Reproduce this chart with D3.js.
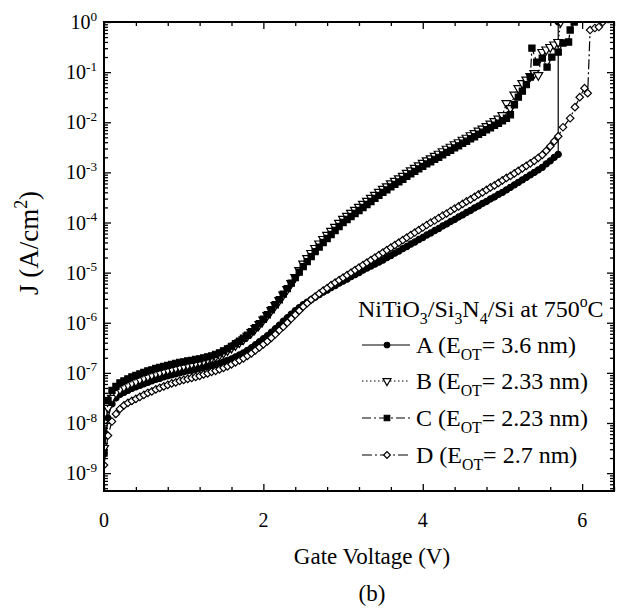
<!DOCTYPE html>
<html><head><meta charset="utf-8">
<script src="https://cdn.jsdelivr.net/npm/d3@7"></script>
<style>
body{margin:0;background:#fff}
svg{display:block}
text{font-family:"Liberation Serif","Times New Roman",serif;fill:#000}
</style>
</head><body>
<svg id="chart" width="617" height="613"></svg>
<script>
// ---------------- data ----------------
const gateV = [0,0.05,0.1,0.15,0.2,0.25,0.3,0.35,0.4,0.45,
0.5,0.55,0.6,0.65,0.7,0.75,0.8,0.85,0.9,0.95,
1,1.05,1.1,1.15,1.2,1.25,1.3,1.35,1.4,1.45,
1.5,1.55,1.6,1.65,1.7,1.75,1.8,1.85,1.9,1.95,
2,2.05,2.1,2.15,2.2,2.25,2.3,2.35,2.4,2.45,
2.5,2.55,2.6,2.65,2.7,2.75,2.8,2.85,2.9,2.95,
3,3.05,3.1,3.15,3.2,3.25,3.3,3.35,3.4,3.45,
3.5,3.55,3.6,3.65,3.7,3.75,3.8,3.85,3.9,3.95,
4,4.05,4.1,4.15,4.2,4.25,4.3,4.35,4.4,4.45,
4.5,4.55,4.6,4.65,4.7,4.75,4.8,4.85,4.9,4.95,
5,5.05,5.1,5.15,5.2,5.25,5.3,5.35,5.4,5.45,
5.5,5.55,5.6,5.65,5.7];

// log10 of J (A/cm^2)
const logJ_A = [-8.60,-7.90,-7.62,-7.50,-7.43,-7.39,-7.35,-7.31,-7.28,-7.25,
-7.22,-7.19,-7.16,-7.13,-7.11,-7.08,-7.06,-7.04,-7.02,-7.00,
-6.98,-6.96,-6.95,-6.93,-6.91,-6.89,-6.87,-6.85,-6.83,-6.81,
-6.78,-6.75,-6.72,-6.68,-6.64,-6.60,-6.55,-6.50,-6.44,-6.38,
-6.32,-6.26,-6.19,-6.12,-6.05,-5.97,-5.90,-5.83,-5.76,-5.70,
-5.64,-5.59,-5.54,-5.49,-5.44,-5.39,-5.35,-5.30,-5.26,-5.21,
-5.17,-5.13,-5.08,-5.04,-5.00,-4.95,-4.91,-4.87,-4.83,-4.79,
-4.75,-4.70,-4.66,-4.61,-4.57,-4.52,-4.48,-4.43,-4.39,-4.34,
-4.30,-4.25,-4.21,-4.16,-4.12,-4.07,-4.03,-3.98,-3.94,-3.89,
-3.85,-3.80,-3.76,-3.71,-3.67,-3.62,-3.58,-3.53,-3.49,-3.44,
-3.40,-3.35,-3.30,-3.25,-3.20,-3.15,-3.10,-3.05,-3.00,-2.95,
-2.90,-2.83,-2.77,-2.70,-2.64];
const tailV_A = [5.7];
const tailLogJ_A = [0.0];

const logJ_B = [-8.50,-7.70,-7.50,-7.40,-7.33,-7.28,-7.24,-7.20,-7.17,-7.13,
-7.10,-7.07,-7.04,-7.01,-6.99,-6.96,-6.94,-6.92,-6.90,-6.88,
-6.86,-6.84,-6.82,-6.80,-6.78,-6.76,-6.73,-6.70,-6.67,-6.64,
-6.60,-6.55,-6.50,-6.45,-6.39,-6.33,-6.26,-6.19,-6.11,-6.03,
-5.94,-5.85,-5.75,-5.65,-5.55,-5.44,-5.33,-5.21,-5.09,-4.95,
-4.82,-4.71,-4.61,-4.51,-4.42,-4.33,-4.25,-4.17,-4.09,-4.01,
-3.93,-3.87,-3.81,-3.75,-3.69,-3.63,-3.57,-3.51,-3.45,-3.39,
-3.33,-3.28,-3.22,-3.17,-3.12,-3.07,-3.01,-2.96,-2.91,-2.86,
-2.81,-2.76,-2.72,-2.67,-2.63,-2.58,-2.53,-2.49,-2.44,-2.40,
-2.35,-2.31,-2.26,-2.22,-2.17,-2.13,-2.08,-2.03,-1.98,-1.93,
-1.86];
const tailV_B = [5.05,5.10,5.15,5.20,5.25,5.30,5.35,5.40,5.45,5.50,5.55,5.60,5.65,5.70,5.73];
const tailLogJ_B = [-1.62,-1.72,-1.45,-1.32,-1.22,-1.15,-1.08,-1.02,-1.06,-0.60,-0.55,-0.50,-0.45,-0.40,0.0];

const logJ_C = [-8.60,-7.55,-7.35,-7.27,-7.20,-7.16,-7.12,-7.08,-7.05,-7.02,
-6.99,-6.96,-6.94,-6.91,-6.89,-6.87,-6.85,-6.83,-6.81,-6.79,
-6.78,-6.76,-6.75,-6.73,-6.72,-6.70,-6.68,-6.66,-6.63,-6.60,
-6.56,-6.52,-6.47,-6.42,-6.37,-6.31,-6.25,-6.18,-6.10,-6.02,
-5.93,-5.84,-5.74,-5.64,-5.54,-5.43,-5.32,-5.21,-5.10,-4.99,
-4.88,-4.78,-4.68,-4.58,-4.49,-4.40,-4.32,-4.24,-4.16,-4.08,
-4.00,-3.94,-3.88,-3.82,-3.76,-3.70,-3.64,-3.58,-3.52,-3.46,
-3.40,-3.35,-3.29,-3.24,-3.19,-3.14,-3.08,-3.03,-2.98,-2.93,
-2.88,-2.83,-2.79,-2.74,-2.70,-2.65,-2.60,-2.56,-2.51,-2.47,
-2.42,-2.38,-2.33,-2.29,-2.24,-2.20,-2.15,-2.11,-2.06,-2.02,
-1.97];
const tailV_C = [5.05,5.10,5.15,5.20,5.25,5.30,5.35,5.37,5.43,5.50,5.56,5.62,5.70,5.76,5.83,5.85,5.90];
const tailLogJ_C = [-1.92,-1.85,-1.65,-1.50,-1.38,-1.25,-1.10,-0.52,-0.80,-0.72,-0.90,-0.70,-0.60,-0.42,-0.40,-0.16,0.0];

const logJ_D = [-8.84,-8.25,-7.97,-7.82,-7.72,-7.65,-7.60,-7.56,-7.52,-7.48,
-7.44,-7.40,-7.37,-7.33,-7.30,-7.27,-7.24,-7.21,-7.19,-7.16,
-7.14,-7.12,-7.10,-7.08,-7.06,-7.03,-7.01,-6.98,-6.96,-6.93,
-6.90,-6.87,-6.83,-6.79,-6.75,-6.71,-6.66,-6.61,-6.55,-6.49,
-6.43,-6.37,-6.30,-6.23,-6.15,-6.08,-6.00,-5.92,-5.84,-5.76,
-5.68,-5.61,-5.54,-5.48,-5.42,-5.36,-5.31,-5.25,-5.20,-5.15,
-5.10,-5.05,-5.00,-4.95,-4.90,-4.85,-4.80,-4.75,-4.70,-4.65,
-4.60,-4.55,-4.50,-4.45,-4.40,-4.35,-4.30,-4.25,-4.20,-4.15,
-4.10,-4.05,-4.00,-3.96,-3.91,-3.86,-3.82,-3.77,-3.72,-3.68,
-3.63,-3.58,-3.54,-3.49,-3.44,-3.40,-3.35,-3.30,-3.26,-3.21,
-3.16,-3.11,-3.07,-3.02,-2.97,-2.92,-2.87,-2.82,-2.77,-2.71,
-2.65,-2.57,-2.48,-2.38];
const tailV_D = [5.70,5.76,5.85,5.91,5.97,6.03,6.07,6.10,6.16,6.21,6.26];
const tailLogJ_D = [-2.28,-2.10,-1.92,-1.70,-1.50,-1.32,-1.42,-0.16,-0.12,-0.10,0.0];

const seriesNames = ["A","B","C","D"];
const eotValues = ["3.6","2.33","2.23","2.7"];
const xMajorTicks = [0,2,4,6];
const xMinorTicks = [0.4,0.8,1.2,1.6,2.4,2.8,3.2,3.6,4.4,4.8,5.2,5.6,6.4];
const yDecadeExps = [0,-1,-2,-3,-4,-5,-6,-7,-8,-9];

// ---------------- chart ----------------
const svg = d3.select("#chart");
const L = 104, R = 614, T = 22, B = 491;
const x = d3.scaleLinear().domain([0, 6.4]).range([L, R]);
const y = d3.scaleLog().domain([4.4e-10, 1]).range([B, T]);

function build(n, logs, tv, tl) {
  const pts = gateV.slice(0, n).map((v, i) => ({v, j: Math.pow(10, logs[i])}));
  return pts.concat(tv.map((v, i) => ({v, j: Math.pow(10, tl[i])})));
}
const series = [
  {name:"A", pts: build(logJ_A.length, logJ_A, tailV_A, tailLogJ_A), sym: d3.symbolCircle, size: 30, fill:"#000", dash:null, rot:0},
  {name:"B", pts: build(logJ_B.length, logJ_B, tailV_B, tailLogJ_B), sym: d3.symbolTriangle, size: 34, fill:"#fff", dash:"1.5,2.5", rot:180},
  {name:"C", pts: build(logJ_C.length, logJ_C, tailV_C, tailLogJ_C), sym: d3.symbolSquare, size: 38, fill:"#000", dash:"9,3,2,3", rot:0},
  {name:"D", pts: build(logJ_D.length, logJ_D, tailV_D, tailLogJ_D), sym: d3.symbolSquare, size: 28, fill:"#fff", dash:"10,3,2,3", rot:45}
];

svg.append("defs").append("clipPath").attr("id","plotclip")
  .append("rect").attr("x", L).attr("y", T).attr("width", R - L).attr("height", B - T);

// axes ticks (inward)
const yMinor = [];
yDecadeExps.forEach(e => { for (let k = 2; k <= 9; k++) { const v = k * Math.pow(10, e - 1); if (v >= 4.4e-10 && v < 1) yMinor.push(v); } });
const yMajor = yDecadeExps.map(e => Math.pow(10, e));

const axG = svg.append("g");
function addAxis(gen, transform) { const g = axG.append("g").attr("transform", transform).call(gen); g.selectAll("text").remove(); g.select(".domain").remove(); g.selectAll("line").attr("stroke","#000").attr("stroke-width",1.3); }
addAxis(d3.axisBottom(x).tickValues(xMajorTicks).tickSize(-7), `translate(0,${B})`);
addAxis(d3.axisBottom(x).tickValues(xMinorTicks).tickSize(-4), `translate(0,${B})`);
addAxis(d3.axisTop(x).tickValues(xMajorTicks).tickSize(-7), `translate(0,${T})`);
addAxis(d3.axisTop(x).tickValues(xMinorTicks).tickSize(-4), `translate(0,${T})`);
addAxis(d3.axisLeft(y).tickValues(yMajor).tickSize(-7), `translate(${L},0)`);
addAxis(d3.axisLeft(y).tickValues(yMinor).tickSize(-4), `translate(${L},0)`);
addAxis(d3.axisRight(y).tickValues(yMajor).tickSize(-7), `translate(${R},0)`);
addAxis(d3.axisRight(y).tickValues(yMinor).tickSize(-4), `translate(${R},0)`);

// data
const plot = svg.append("g").attr("clip-path","url(#plotclip)");
const line = d3.line().x(d => x(d.v)).y(d => y(d.j));
const drawOrder = [0, 3, 1, 2];
drawOrder.forEach(si => {
  const s = series[si];
  const g = plot.append("g");
  g.append("path").datum(s.pts).attr("d", line).attr("fill","none").attr("stroke","#000")
    .attr("stroke-width",1.2).attr("stroke-dasharray", s.dash);
  g.selectAll("path.m").data(s.pts).join("path").attr("class","m")
    .attr("d", d3.symbol().type(s.sym).size(s.size))
    .attr("transform", d => `translate(${x(d.v)},${y(d.j)}) rotate(${s.rot})`)
    .attr("fill", s.fill).attr("stroke","#000").attr("stroke-width",1.2);
});

// frame
svg.append("rect").attr("x", L).attr("y", T).attr("width", R - L).attr("height", B - T)
  .attr("fill","none").attr("stroke","#000").attr("stroke-width",2);

// rich text helper
function rich(sel, parts, base) {
  let off = 0;
  parts.forEach(([str, mode]) => {
    let target = mode === "sub" ? base * 0.3 : mode === "sup" ? -base * 0.42 : 0;
    const t = sel.append("tspan").text(str).attr("dy", target - off);
    if (mode !== "n") t.attr("font-size", base * 0.66);
    off = target;
  });
}

// tick labels
svg.append("g").selectAll("text").data(xMajorTicks).join("text")
  .attr("x", d => x(d)).attr("y", 527).attr("text-anchor","middle").attr("font-size",20).text(d => d);
yDecadeExps.forEach(e => {
  const t = svg.append("text").attr("x", 97).attr("y", y(Math.pow(10, e)) + 7)
    .attr("text-anchor","end").attr("font-size",20);
  rich(t, [["10","n"],[String(e),"sup"]], 20);
});

// axis titles
svg.append("text").attr("x", 372).attr("y", 564).attr("text-anchor","middle").attr("font-size",23).text("Gate Voltage (V)");
svg.append("text").attr("x", 372).attr("y", 601).attr("text-anchor","middle").attr("font-size",23).text("(b)");
const yt = svg.append("text").attr("transform","translate(38,243) rotate(-90)").attr("text-anchor","middle").attr("font-size",27);
rich(yt, [["J (A/cm","n"],["2","sup"],[")","n"]], 27);

// legend
const lt = svg.append("text").attr("x", 358).attr("y", 317).attr("font-size",24);
rich(lt, [["NiTiO","n"],["3","sub"],["/Si","n"],["3","sub"],["N","n"],["4","sub"],["/Si at 750","n"],["o","sup"],["C","n"]], 24);
const rowY = [345, 381, 418, 455];
series.forEach((s, i) => {
  const cy = rowY[i];
  svg.append("line").attr("x1", 362).attr("x2", 410).attr("y1", cy).attr("y2", cy)
    .attr("stroke","#000").attr("stroke-width",1.2).attr("stroke-dasharray", s.dash);
  svg.append("path").attr("d", d3.symbol().type(s.sym).size(s.size * 0.8))
    .attr("transform", `translate(387,${cy}) rotate(${s.rot})`)
    .attr("fill", s.fill).attr("stroke","#000").attr("stroke-width",1.2);
  const t = svg.append("text").attr("x", 416).attr("y", cy + 8).attr("font-size",24);
  rich(t, [[seriesNames[i] + " (E","n"],["OT","sub"],["= " + eotValues[i] + " nm)","n"]], 24);
});
</script>
</body></html>
